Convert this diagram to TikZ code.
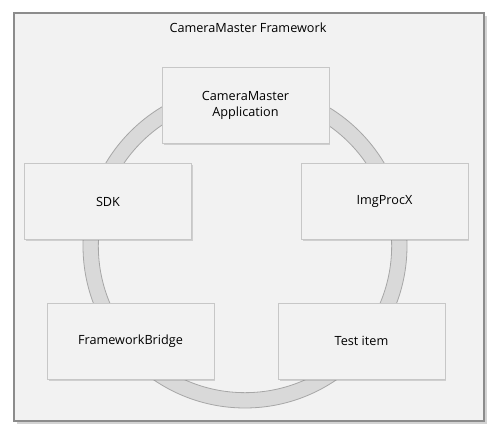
\documentclass[tikz,border=0pt]{standalone}
\usepackage{fontspec}
\setmainfont{Open Sans}
\usetikzlibrary{shadows}
\definecolor{panelfill}{HTML}{F2F2F2}
\definecolor{panelline}{HTML}{8C8C8C}
\definecolor{ringfill}{HTML}{D9D9D9}
\definecolor{ringline}{HTML}{A6A6A6}
\tikzset{
  frame/.style={draw=panelline, line width=1.5pt, fill=panelfill,
    drop shadow={shadow xshift=2pt, shadow yshift=-2pt, opacity=0.35}},
  block/.style={draw=black!22, line width=0.5pt, fill=panelfill, minimum width=125pt, minimum height=57pt,
    align=center, font=\fontsize{9.5}{11.5}\selectfont,
    drop shadow={shadow xshift=1.2pt, shadow yshift=-1.2pt, opacity=0.3}},
}
\begin{document}
\begin{tikzpicture}[x=0.75pt, y=-0.75pt]
  \useasboundingbox (0,0) rectangle (494,431);
  \draw[frame] (14,13) rectangle (484,421);
  \node[font=\fontsize{9.5}{11.5}\selectfont] (title) at (248,28) {CameraMaster Framework};
  % ring behind the blocks
  \draw[draw=ringline, fill=ringfill, even odd rule, line width=0.6pt]
    (245,246) circle[radius=121.5pt] (245,246) circle[radius=110pt];
  \node[block] (app) at (245.5,105.5) {CameraMaster\\Application};
  \node[block] (sdk) at (108,201.5) {SDK};
  \node[block] (imgproc) at (384.5,201.5) {ImgProcX};
  \node[block] (bridge) at (130.5,341.5) {FrameworkBridge};
  \node[block] (testitem) at (361.5,341) {Test item};
\end{tikzpicture}
\end{document}
